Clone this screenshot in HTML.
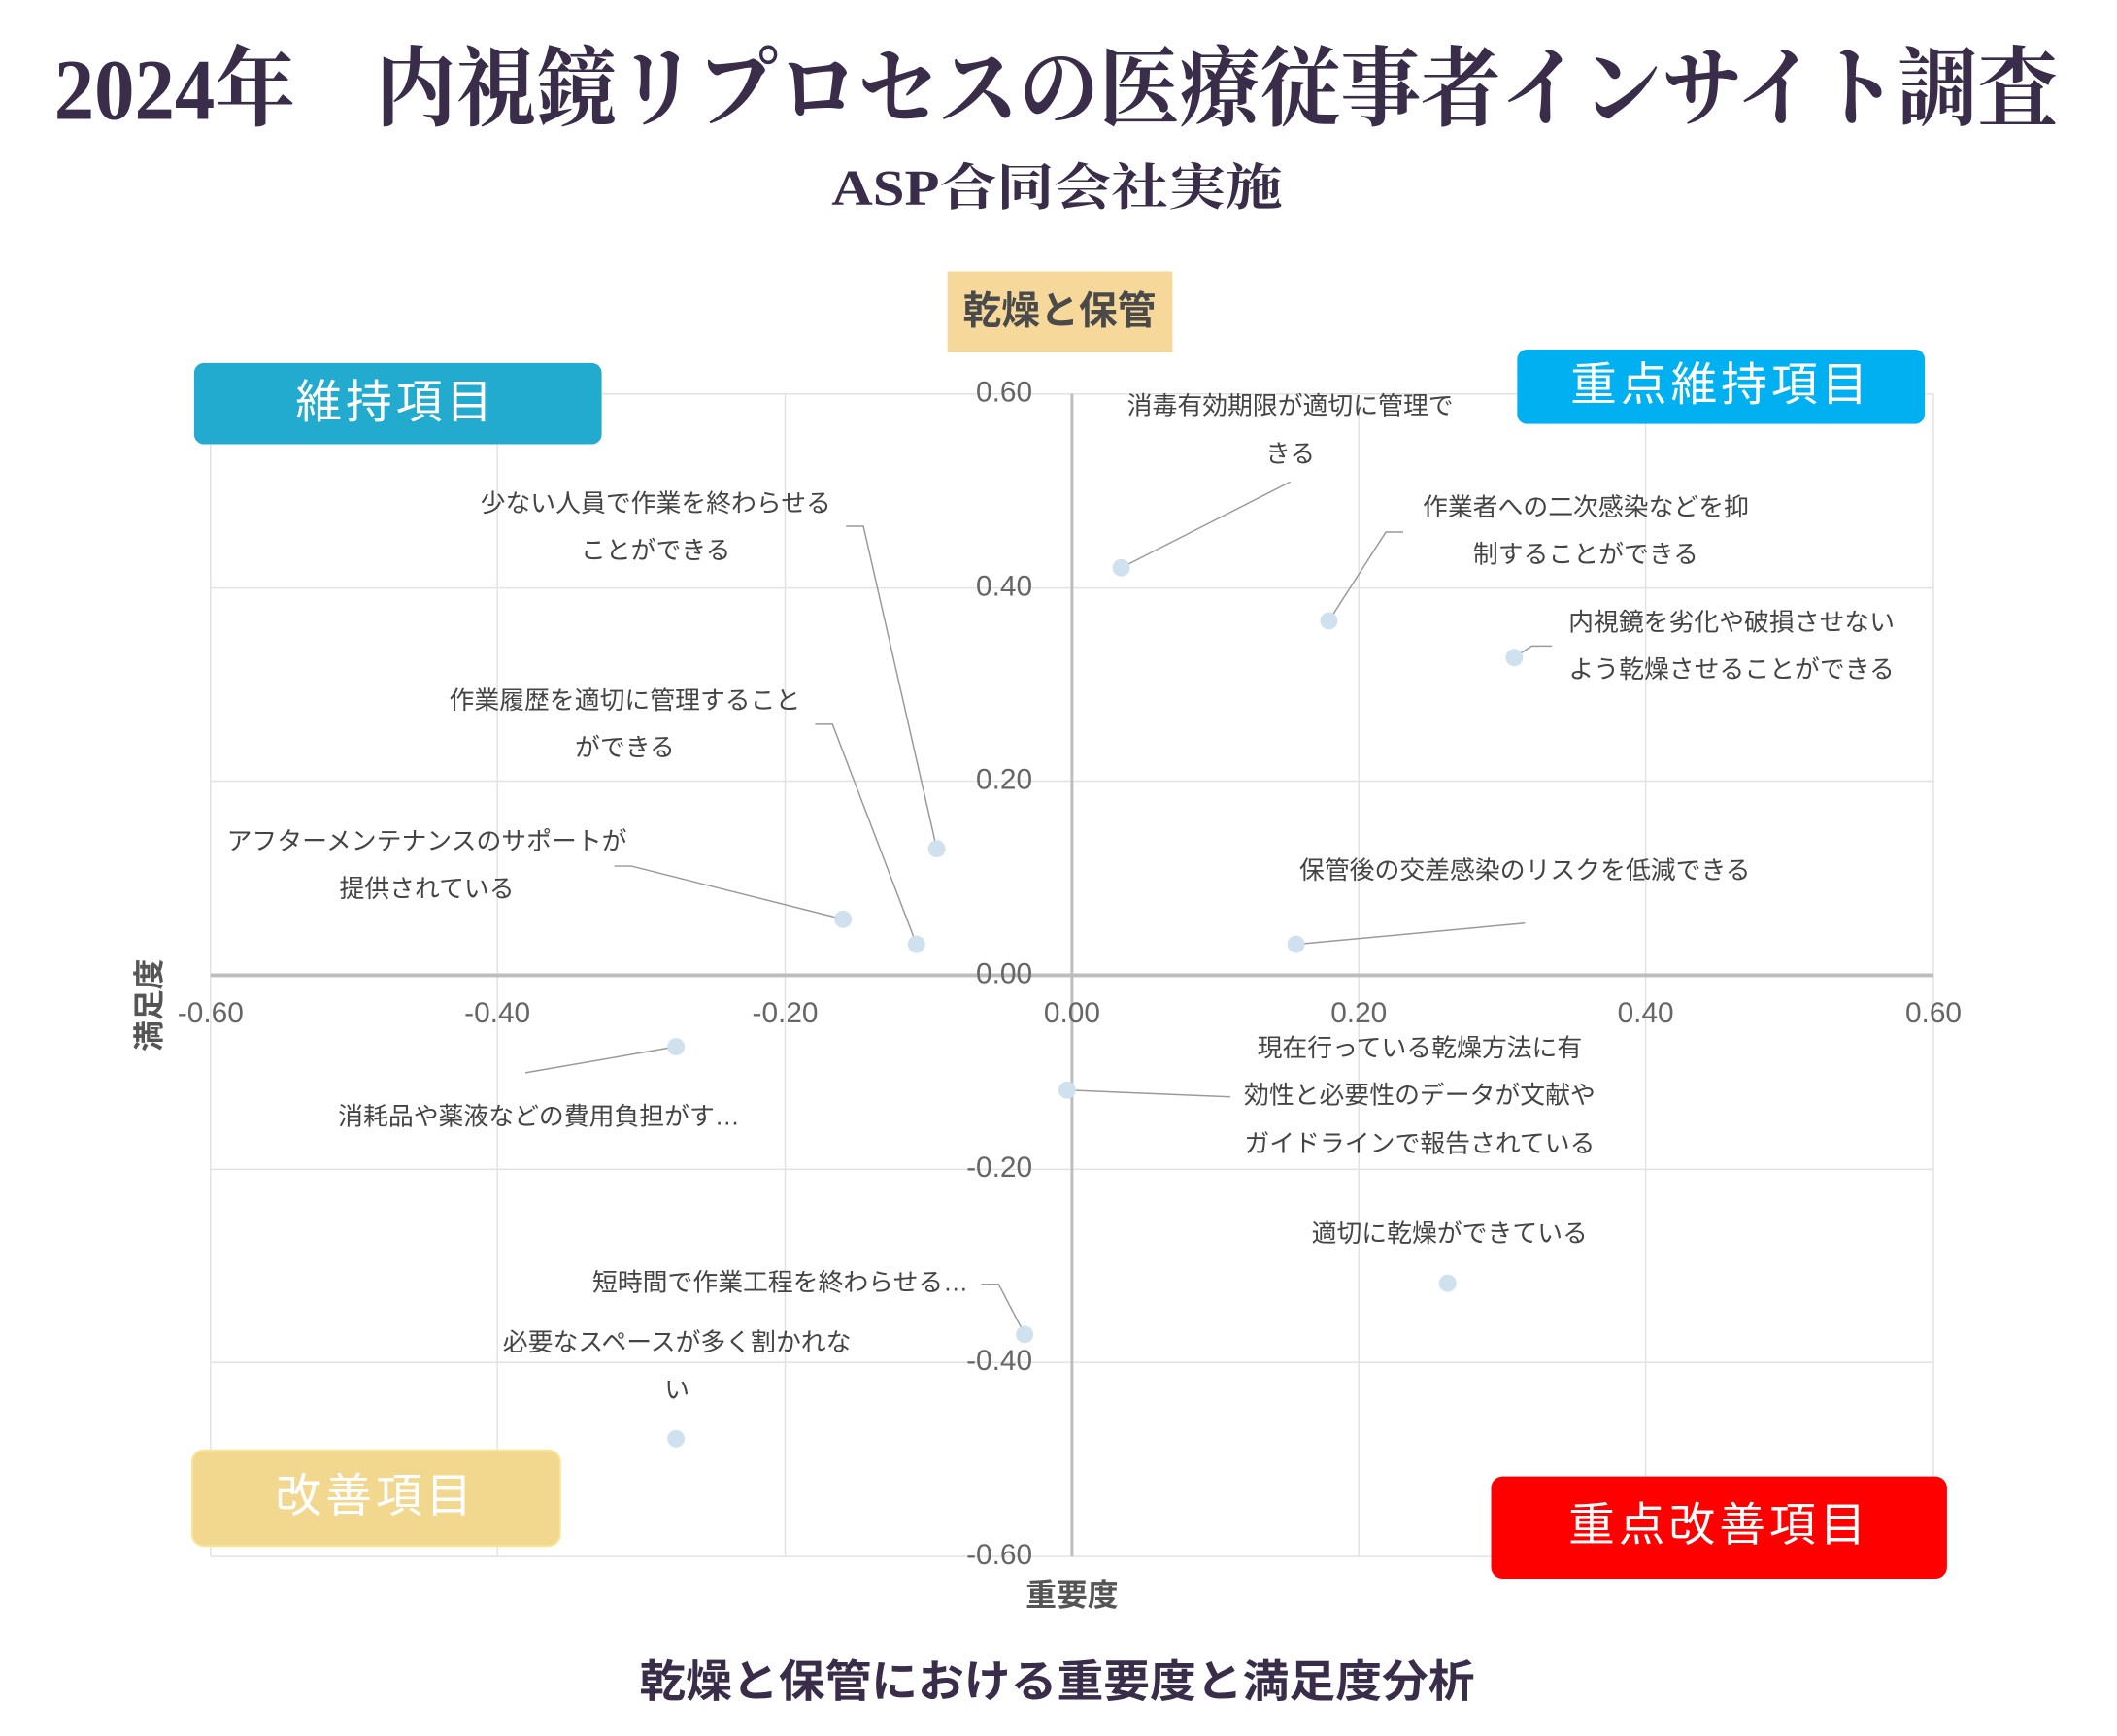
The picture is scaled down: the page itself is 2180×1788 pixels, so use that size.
<!DOCTYPE html>
<html><head><meta charset="utf-8"><style>
html,body{margin:0;padding:0;background:#fff;}
svg{display:block;}
text{font-family:"Liberation Sans","Noto Sans CJK JP",sans-serif;}
.lab{font-size:26px;fill:#444;text-anchor:middle;dominant-baseline:middle;}
.tk{font-size:30px;fill:#666;}
.ld{stroke:#9a9a9a;stroke-width:1.5;fill:none;}
.dot{fill:#cfe0ee;}
</style></head><body>
<svg width="2180" height="1788" viewBox="0 0 2180 1788" xmlns="http://www.w3.org/2000/svg">
<rect width="2180" height="1788" fill="#fff"/>
<g transform="scale(0.9945)">
<text x="56" y="123" font-size="90" font-weight="bold" fill="#3a2d4a" textLength="2075" lengthAdjust="spacingAndGlyphs" style="font-family:'Liberation Serif','Noto Serif CJK SC','Noto Sans CJK JP',serif">2024年　内視鏡リプロセスの医療従事者インサイト調査</text>
<text x="861" y="212" font-size="52" font-weight="bold" fill="#3a2d4a" textLength="467" lengthAdjust="spacingAndGlyphs" style="font-family:'Liberation Serif','Noto Serif CJK SC','Noto Sans CJK JP',serif">ASP合同会社実施</text>
<g stroke="#e2e2e2" stroke-width="1.5">
<line x1="218" y1="408" x2="218" y2="1612"/>
<line x1="515" y1="408" x2="515" y2="1612"/>
<line x1="813" y1="408" x2="813" y2="1612"/>
<line x1="1407" y1="408" x2="1407" y2="1612"/>
<line x1="1704" y1="408" x2="1704" y2="1612"/>
<line x1="2002" y1="408" x2="2002" y2="1612"/>
<line x1="218" y1="408" x2="2002" y2="408"/>
<line x1="218" y1="609" x2="2002" y2="609"/>
<line x1="218" y1="809" x2="2002" y2="809"/>
<line x1="218" y1="1211" x2="2002" y2="1211"/>
<line x1="218" y1="1411" x2="2002" y2="1411"/>
<line x1="218" y1="1612" x2="2002" y2="1612"/>
</g>
<line x1="1110" y1="408" x2="1110" y2="1612" stroke="#bdbdbd" stroke-width="3"/>
<line x1="218" y1="1010" x2="2002" y2="1010" stroke="#bdbdbd" stroke-width="4"/>
<g class="tk" text-anchor="end" dominant-baseline="middle">
<text x="1069" y="408">0.60</text>
<text x="1069" y="609">0.40</text>
<text x="1069" y="809">0.20</text>
<text x="1069" y="1010">0.00</text>
<text x="1069" y="1211">-0.20</text>
<text x="1069" y="1411">-0.40</text>
<text x="1069" y="1612">-0.60</text>
</g>
<g class="tk" text-anchor="middle" dominant-baseline="middle">
<text x="218" y="1051">-0.60</text>
<text x="515" y="1051">-0.40</text>
<text x="813" y="1051">-0.20</text>
<text x="1110" y="1051">0.00</text>
<text x="1407" y="1051">0.20</text>
<text x="1704" y="1051">0.40</text>
<text x="2002" y="1051">0.60</text>
</g>
<text x="1110" y="1654" font-size="32" font-weight="bold" fill="#555" text-anchor="middle" dominant-baseline="middle">重要度</text>
<text transform="translate(157,1041) rotate(-90)" font-size="32" font-weight="bold" fill="#555" text-anchor="middle" dominant-baseline="middle">満足度</text>
<polyline class="ld" points="1161,588 1336,499"/>
<polyline class="ld" points="1376,643 1435,551 1453,551"/>
<polyline class="ld" points="1568,681 1586,669 1607,669"/>
<polyline class="ld" points="970,879 894,545 876,545"/>
<polyline class="ld" points="949,978 862,750 844,750"/>
<polyline class="ld" points="873,952 654,897 636,897"/>
<polyline class="ld" points="1342,978 1579,956"/>
<polyline class="ld" points="700,1084 544,1111"/>
<polyline class="ld" points="1105,1129 1274,1136"/>
<polyline class="ld" points="1061,1382 1034,1330 1016,1330"/>
<g class="dot">
<circle cx="1161" cy="588" r="9"/><circle cx="1376" cy="643" r="9"/><circle cx="1568" cy="681" r="9"/>
<circle cx="970" cy="879" r="9"/><circle cx="873" cy="952" r="9"/><circle cx="949" cy="978" r="9"/>
<circle cx="1342" cy="978" r="9"/><circle cx="700" cy="1084" r="9"/><circle cx="1105" cy="1129" r="9"/>
<circle cx="1499" cy="1329" r="9"/><circle cx="1061" cy="1382" r="9"/><circle cx="700" cy="1490" r="9"/>
</g>
<text class="lab" x="1336" y="422">消毒有効期限が適切に管理で</text>
<text class="lab" x="1336" y="472">きる</text>
<text class="lab" x="1642" y="527">作業者への二次感染などを抑</text>
<text class="lab" x="1642" y="576">制することができる</text>
<text class="lab" x="1793" y="646">内視鏡を劣化や破損させない</text>
<text class="lab" x="1793" y="695">よう乾燥させることができる</text>
<text class="lab" x="679" y="523">少ない人員で作業を終わらせる</text>
<text class="lab" x="679" y="572">ことができる</text>
<text class="lab" x="647" y="727">作業履歴を適切に管理すること</text>
<text class="lab" x="647" y="776">ができる</text>
<text class="lab" x="442" y="873">アフターメンテナンスのサポートが</text>
<text class="lab" x="442" y="922">提供されている</text>
<text class="lab" x="1579" y="903">保管後の交差感染のリスクを低減できる</text>
<text class="lab" x="558" y="1158">消耗品や薬液などの費用負担がす…</text>
<text class="lab" x="1470" y="1087">現在行っている乾燥方法に有</text>
<text class="lab" x="1470" y="1136">効性と必要性のデータが文献や</text>
<text class="lab" x="1470" y="1186">ガイドラインで報告されている</text>
<text class="lab" x="1501" y="1279">適切に乾燥ができている</text>
<text class="lab" x="808" y="1330">短時間で作業工程を終わらせる…</text>
<text class="lab" x="701" y="1392">必要なスペースが多く割かれな</text>
<text class="lab" x="701" y="1441">い</text>
<rect x="981" y="281" width="233" height="84" fill="#f5d89a"/>
<text x="1097" y="325" font-size="40" font-weight="bold" fill="#4a4a4a" text-anchor="middle" dominant-baseline="middle">乾燥と保管</text>
<rect x="201" y="376" width="422" height="84" rx="10" fill="#23aacf"/>
<text x="410" y="420" font-size="48" fill="#fff" text-anchor="middle" dominant-baseline="middle" letter-spacing="4">維持項目</text>
<rect x="1571" y="362" width="422" height="77" rx="10" fill="#00b0f0"/>
<text x="1782" y="402" font-size="48" fill="#fff" text-anchor="middle" dominant-baseline="middle" letter-spacing="4">重点維持項目</text>
<rect x="199" y="1502" width="381" height="99" rx="12" fill="#f2d78e" stroke="#f7e69a" stroke-width="2"/>
<text x="389" y="1553" font-size="48" fill="#fff" text-anchor="middle" dominant-baseline="middle" letter-spacing="4">改善項目</text>
<rect x="1544" y="1529" width="472" height="106" rx="12" fill="#ff0000"/>
<text x="1780" y="1583" font-size="48" fill="#fff" text-anchor="middle" dominant-baseline="middle" letter-spacing="4">重点改善項目</text>
<text x="662" y="1757" font-size="46" font-weight="bold" fill="#3a2d4a" textLength="865" lengthAdjust="spacingAndGlyphs">乾燥と保管における重要度と満足度分析</text>
</g>
</svg>
</body></html>
